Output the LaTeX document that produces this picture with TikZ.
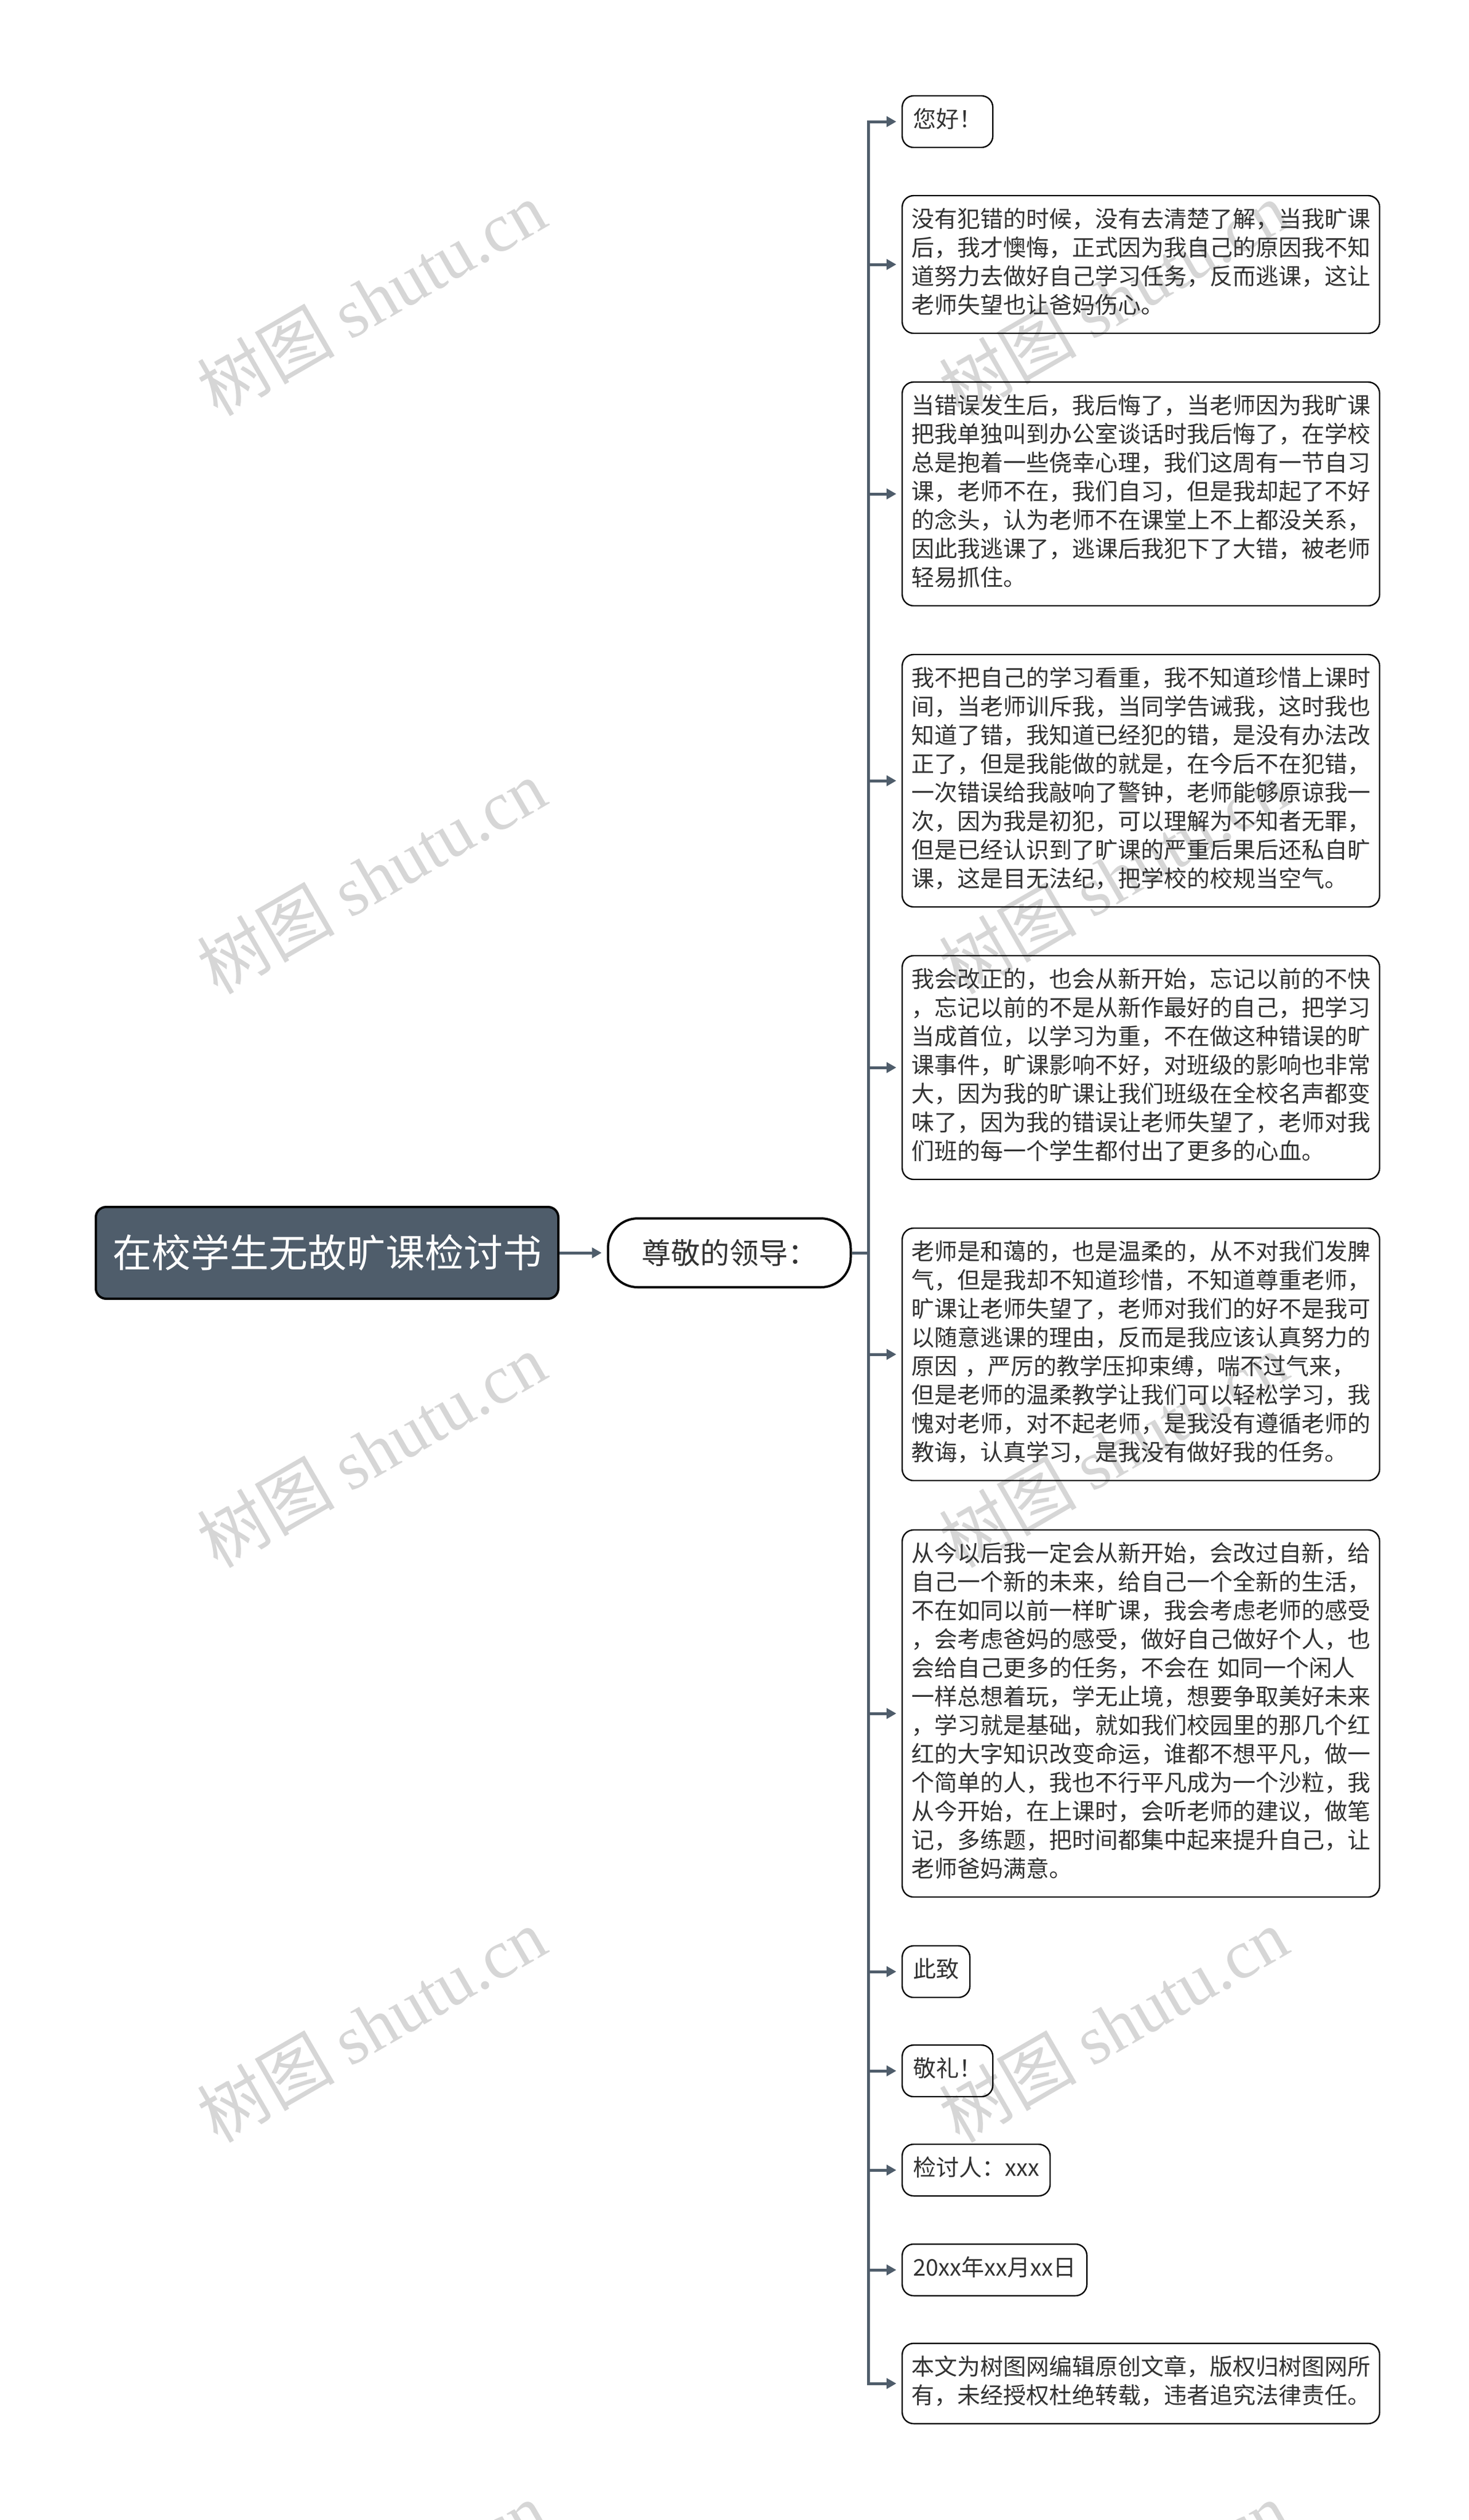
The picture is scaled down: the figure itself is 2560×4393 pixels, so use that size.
\documentclass[tikz,border=0pt]{standalone}
\usepackage{fontspec}
\usetikzlibrary{arrows.meta}
\newfontfamily\cjk{Noto Sans CJK SC}
\newfontfamily\wmserif{Liberation Serif}
\definecolor{slate}{HTML}{4F5D6B}
\definecolor{inktext}{HTML}{333333}
\definecolor{wmgray}{HTML}{D6D6D6}

\tikzset{
  rootbox/.style={draw=black, line width=1pt, fill=slate, rounded corners=4.5pt,
    minimum width=201.5pt, minimum height=40pt, text=white,
    font=\cjk\fontsize{17pt}{20pt}\selectfont},
  leadbox/.style={draw=black, line width=1pt, rounded corners=13pt,
    minimum width=105.75pt, minimum height=30pt, text=inktext,
    font=\cjk\fontsize{12.75pt}{15pt}\selectfont},
  itembox/.style={draw=black, line width=0.6pt, rounded corners=5pt, anchor=west,
    inner xsep=4.75pt, inner ysep=5pt, text=inktext,
    font=\cjk\fontsize{10pt}{12.5pt}\selectfont,
    execute at begin node=\strut, execute at end node=\strut},
  longbox/.style={itembox, text width=200pt, inner xsep=4pt, align=left},
  conn/.style={draw=slate, line width=1.25pt},
  branch/.style={-{Triangle[length=4.25pt,width=4.5pt]}, shorten >=2.25pt},
  wmark/.style={text=wmgray, rotate=30, font=\fontsize{30pt}{32pt}\selectfont},
}

\begin{document}
\begin{tikzpicture}[x=0.25pt, y=-0.25pt]
    \useasboundingbox (0,0) rectangle (2560,4393);

    % watermark
    \foreach \wy in {520,1528,2528,3530,4530} {
        \node[wmark] (wmL\wy) at (647,\wy) {\cjk 树图 \wmserif shutu.cn};
        \node[wmark] (wmR\wy) at (1940,\wy) {\cjk 树图 \wmserif shutu.cn};
    }

    \node[rootbox] (root) at (570,2184) {在校学生无故旷课检讨书};
    \node[leadbox] (lead) at (1271,2184) {尊敬的领导：};
    \coordinate (trunk) at (1513,2184);

    \node[itembox] (c1) at (1571,212) {您好！};
    \node[longbox] (c2) at (1571,461) {没有犯错的时候，没有去清楚了解，当我旷课\\后，我才懊悔，正式因为我自己的原因我不知\\道努力去做好自己学习任务，反而逃课，这让\\老师失望也让爸妈伤心。};
    \node[longbox] (c3) at (1571,861) {当错误发生后，我后悔了，当老师因为我旷课\\把我单独叫到办公室谈话时我后悔了，在学校\\总是抱着一些侥幸心理，我们这周有一节自习\\课，老师不在，我们自习，但是我却起了不好\\的念头，认为老师不在课堂上不上都没关系，\\因此我逃课了，逃课后我犯下了大错，被老师\\轻易抓住。};
    \node[longbox] (c4) at (1571,1361) {我不把自己的学习看重，我不知道珍惜上课时\\间，当老师训斥我，当同学告诫我，这时我也\\知道了错，我知道已经犯的错，是没有办法改\\正了，但是我能做的就是，在今后不在犯错，\\一次错误给我敲响了警钟，老师能够原谅我一\\次，因为我是初犯，可以理解为不知者无罪，\\但是已经认识到了旷课的严重后果后还私自旷\\课，这是目无法纪，把学校的校规当空气。};
    \node[longbox] (c5) at (1571,1861) {我会改正的，也会从新开始，忘记以前的不快\\，忘记以前的不是从新作最好的自己，把学习\\当成首位，以学习为重，不在做这种错误的旷\\课事件，旷课影响不好，对班级的影响也非常\\大，因为我的旷课让我们班级在全校名声都变\\味了，因为我的错误让老师失望了，老师对我\\们班的每一个学生都付出了更多的心血。};
    \node[longbox] (c6) at (1571,2361) {老师是和蔼的，也是温柔的，从不对我们发脾\\气，但是我却不知道珍惜，不知道尊重老师，\\旷课让老师失望了，老师对我们的好不是我可\\以随意逃课的理由，反而是我应该认真努力的\\原因 ，严厉的教学压抑束缚，喘不过气来，\\但是老师的温柔教学让我们可以轻松学习，我\\愧对老师，对不起老师，是我没有遵循老师的\\教诲，认真学习，是我没有做好我的任务。};
    \node[longbox] (c7) at (1571,2987) {从今以后我一定会从新开始，会改过自新，给\\自己一个新的未来，给自己一个全新的生活，\\不在如同以前一样旷课，我会考虑老师的感受\\，会考虑爸妈的感受，做好自己做好个人，也\\会给自己更多的任务，不会在 如同一个闲人\\一样总想着玩，学无止境，想要争取美好未来\\，学习就是基础，就如我们校园里的那几个红\\红的大字知识改变命运，谁都不想平凡，做一\\个简单的人，我也不行平凡成为一个沙粒，我\\从今开始，在上课时，会听老师的建议，做笔\\记，多练题，把时间都集中起来提升自己，让\\老师爸妈满意。};
    \node[itembox] (c8) at (1571,3437) {此致};
    \node[itembox] (c9) at (1571,3610) {敬礼！};
    \node[itembox] (c10) at (1571,3783) {检讨人：xxx};
    \node[itembox] (c11) at (1571,3957) {20xx年xx月xx日};
    \node[longbox] (c12) at (1571,4155) {本文为树图网编辑原创文章，版权归树图网所\\有，未经授权杜绝转载，违者追究法律责任。};

    \draw[conn, branch] (root.east) -- (lead.west);
    \draw[conn] (lead.east) -- (trunk);
    \draw[conn, {Triangle[length=4.25pt,width=4.5pt]}-{Triangle[length=4.25pt,width=4.5pt]},
        shorten <=2.25pt, shorten >=2.25pt] (c1.west) -| (trunk) |- (c12.west);
    \foreach \k in {2,...,11}
        \draw[conn, branch] (trunk |- c\k.west) -- (c\k.west);
\end{tikzpicture}
\end{document}
